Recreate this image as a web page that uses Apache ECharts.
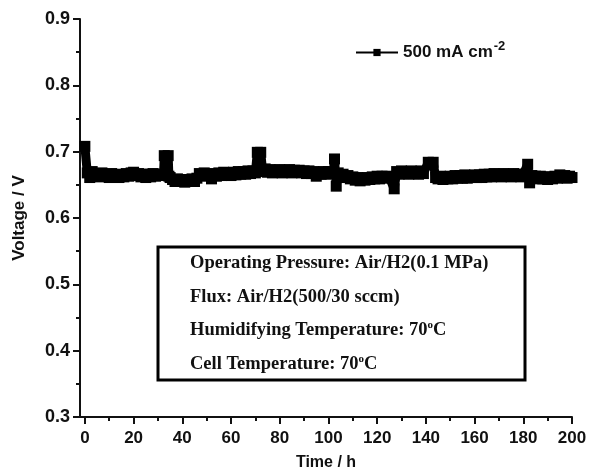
<!DOCTYPE html>
<html>
<head>
<meta charset="utf-8">
<script src="https://cdn.jsdelivr.net/npm/echarts@6/dist/echarts.min.js"></script>
<style>html,body{margin:0;padding:0;background:#fff;}#chart{width:590px;height:473px;}</style>
</head>
<body>
<div id="chart"></div>
<script>
// ---- data ----
var hours = [
  0, 1, 2, 3, 4, 5, 6, 7, 8, 9, 10, 11, 12, 13, 14, 15, 16, 17, 18, 19, 20,
  21, 22, 23, 24, 25, 26, 27, 28, 29, 30, 31, 32.3, 32.6, 34.2, 34.5,
  35, 36, 37, 38, 39, 40, 41, 42, 43, 44, 45, 46, 47, 48, 49, 50,
  51, 52, 53, 54, 55, 56, 57, 58, 59, 60, 61, 62, 63, 64, 65, 66, 67, 68, 69,
  70, 70.8, 72.2, 73, 74, 75, 76, 77, 78, 79, 80, 81, 82, 83, 84, 85, 86, 87, 88, 89,
  90, 91, 92, 93, 94, 95, 96, 97, 98, 99, 100, 101, 102, 102.5, 103.2, 104,
  105, 106, 107, 108, 109, 110, 111, 112, 113, 114, 115, 116, 117, 118, 119, 120,
  121, 122, 123, 124, 125, 127, 128, 129, 130, 131, 132, 133, 134, 135, 136, 137, 138, 139,
  141, 143, 144, 145, 146, 147, 148, 149, 150, 151, 152, 153, 154, 155, 156, 157, 158, 159,
  160, 161, 162, 163, 164, 165, 166, 167, 168, 169, 170, 171, 172, 173, 174, 175, 176, 177,
  178, 179, 180, 181.8, 182.6, 183.5, 184, 185, 186, 187, 188, 189, 190, 191, 192, 193,
  194, 195, 196, 197, 198, 199, 200
];
var voltage = [
  0.708, 0.668, 0.661, 0.670, 0.663, 0.667, 0.662, 0.668, 0.664, 0.666, 0.661, 0.667, 0.663, 0.666, 0.661, 0.665, 0.662, 0.667, 0.663, 0.668, 0.669,
  0.664, 0.667, 0.662, 0.666, 0.661, 0.666, 0.662, 0.667, 0.663, 0.666, 0.664, 0.666, 0.694, 0.694, 0.663,
  0.661, 0.658, 0.655, 0.659, 0.655, 0.658, 0.654, 0.658, 0.656, 0.659, 0.655, 0.660, 0.667, 0.663, 0.668, 0.664,
  0.667, 0.659, 0.666, 0.663, 0.668, 0.664, 0.669, 0.665, 0.668, 0.664, 0.669, 0.665, 0.670, 0.666, 0.670, 0.666, 0.671, 0.667, 0.671,
  0.668, 0.699, 0.699, 0.670, 0.674, 0.669, 0.673, 0.668, 0.672, 0.669, 0.673, 0.668, 0.672, 0.669, 0.673, 0.668, 0.672, 0.669, 0.672, 0.668,
  0.671, 0.667, 0.671, 0.667, 0.670, 0.663, 0.669, 0.666, 0.670, 0.666, 0.670, 0.667, 0.668, 0.689, 0.648, 0.668,
  0.664, 0.666, 0.661, 0.664, 0.659, 0.662, 0.657, 0.661, 0.656, 0.660, 0.657, 0.661, 0.658, 0.662, 0.659, 0.663,
  0.659, 0.663, 0.660, 0.663, 0.661, 0.644, 0.670, 0.666, 0.671, 0.667, 0.670, 0.666, 0.671, 0.667, 0.670, 0.666, 0.671, 0.667,
  0.684, 0.684, 0.661, 0.659, 0.663, 0.658, 0.662, 0.659, 0.663, 0.659, 0.664, 0.660, 0.664, 0.660, 0.665, 0.660, 0.664, 0.661,
  0.665, 0.661, 0.665, 0.661, 0.666, 0.662, 0.666, 0.662, 0.667, 0.663, 0.666, 0.662, 0.667, 0.663, 0.666, 0.662, 0.667, 0.663,
  0.666, 0.662, 0.666, 0.681, 0.653, 0.664, 0.660, 0.663, 0.659, 0.663, 0.659, 0.662, 0.658, 0.662, 0.659, 0.663,
  0.660, 0.665, 0.661, 0.664, 0.660, 0.663, 0.661
];
var xMajorTicks = [0, 20, 40, 60, 80, 100, 120, 140, 160, 180, 200];
var xMinorTicks = [10, 30, 50, 70, 90, 110, 130, 150, 170, 190];
var seriesName = '500 mA cm';
var infoLines = [
  'Operating Pressure: Air/H2(0.1 MPa)',
  'Flux: Air/H2(500/30 sccm)',
  'Humidifying Temperature: 70{sup|o}C',
  'Cell Temperature: 70{sup|o}C'
];

var points = hours.map(function (h, i) { return [h, voltage[i]]; });

var sans = '"Liberation Sans", Arial, sans-serif';
var serif = '"Liberation Serif", "Times New Roman", serif';

var chart = echarts.init(document.getElementById('chart'), null, {renderer: 'canvas'});

var infoGraphics = [{
  type: 'rect',
  shape: {x: 158, y: 247, width: 367, height: 133},
  style: {fill: '#fff', stroke: '#000', lineWidth: 3},
  z: 10
}];
var lineY = [263, 297, 330, 364];
infoLines.forEach(function (t, i) {
  infoGraphics.push({
    type: 'text',
    x: 190, y: lineY[i],
    z: 11,
    style: {
      text: t,
      fontFamily: serif, fontWeight: 'bold', fontSize: 18.5,
      fill: '#111',
      verticalAlign: 'middle',
      rich: {
        sup: {fontFamily: serif, fontWeight: 'bold', fontSize: 11, fill: '#111', verticalAlign: 'top', padding: [0, 0, 9, 0]}
      }
    }
  });
});

var option = {
  animation: false,
  backgroundColor: '#fff',
  grid: {left: 80, right: 18, top: 19, bottom: 56, containLabel: false, outerBoundsMode: 'none'},
  legend: {
    left: 350, top: 35,
    itemWidth: 42, itemHeight: 9,
    data: [seriesName],
    formatter: function (n) { return '{a|' + n + '}{sup|-2}'; },
    textStyle: {
      color: '#111',
      rich: {
        a: {fontFamily: sans, fontWeight: 'bold', fontSize: 17, color: '#111'},
        sup: {fontFamily: sans, fontWeight: 'bold', fontSize: 13, color: '#111', verticalAlign: 'top', padding: [0, 0, 12, 1]}
      }
    }
  },
  xAxis: [{
    type: 'value', min: -2, max: 200,
    name: 'Time / h', nameLocation: 'middle', nameGap: 38,
    nameTextStyle: {fontFamily: sans, fontWeight: 'bold', fontSize: 16, color: '#111'},
    axisLine: {show: true, onZero: false, lineStyle: {color: '#111', width: 2}},
    axisTick: {show: true, customValues: xMajorTicks, length: 7, lineStyle: {color: '#111', width: 2}},
    axisLabel: {customValues: xMajorTicks, fontFamily: sans, fontWeight: 'bold', fontSize: 17, color: '#111', margin: 13},
    splitLine: {show: false}
  }, {
    type: 'value', min: -2, max: 200, position: 'bottom',
    axisLine: {show: false, onZero: false},
    axisTick: {show: true, customValues: xMinorTicks, length: 4, lineStyle: {color: '#111', width: 2}},
    axisLabel: {show: false},
    splitLine: {show: false}
  }],
  yAxis: {
    type: 'value', min: 0.3, max: 0.9, interval: 0.1,
    name: 'Voltage / V', nameLocation: 'middle', nameGap: 52,
    nameTextStyle: {fontFamily: sans, fontWeight: 'bold', fontSize: 17, color: '#111'},
    axisLine: {show: true, onZero: false, lineStyle: {color: '#111', width: 2}},
    axisTick: {show: true, length: 7, lineStyle: {color: '#111', width: 2}},
    minorTick: {show: true, splitNumber: 2, length: 4, lineStyle: {color: '#111', width: 2}},
    axisLabel: {formatter: function (v) { return v.toFixed(1); }, fontFamily: sans, fontWeight: 'bold', fontSize: 18, color: '#111', margin: 10},
    splitLine: {show: false}
  },
  graphic: infoGraphics,
  series: [{
    name: seriesName,
    type: 'line',
    data: points,
    symbol: 'rect',
    symbolSize: 11,
    showSymbol: true,
    showAllSymbol: true,
    lineStyle: {color: '#000', width: 9},
    itemStyle: {color: '#000'},
    emphasis: {disabled: true}
  }]
};
chart.setOption(option);
</script>
</body>
</html>
